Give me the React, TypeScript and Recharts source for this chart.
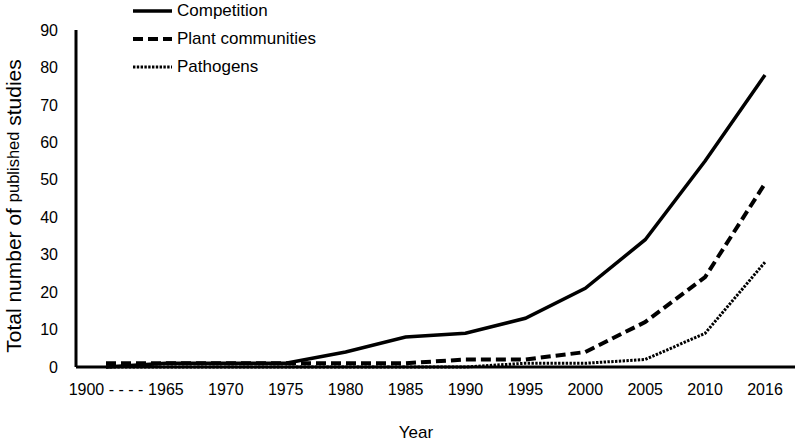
import React from 'react';
import { LineChart, Line, XAxis, YAxis } from 'recharts';

const years = ['1900 - - - -', '1965', '1970', '1975', '1980', '1985', '1990', '1995', '2000', '2005', '2010', '2016'];
const competition = [0, 1, 1, 1, 4, 8, 9, 13, 21, 34, 55, 78];
const plantCommunities = [1, 1, 1, 1, 1, 1, 2, 2, 4, 12, 24, 49];
const pathogens = [0, 0, 0, 0, 0, 0, 0, 1, 1, 2, 9, 28];
const yTicks = [0, 10, 20, 30, 40, 50, 60, 70, 80, 90];

const data = years.map((year, i) => ({
  year,
  competition: competition[i],
  plant: plantCommunities[i],
  pathogens: pathogens[i],
}));

const FONT = 'Liberation Sans, Arial, sans-serif';

const legendItems = [
  { label: 'Competition', dash: undefined, width: 3.5 },
  { label: 'Plant communities', dash: '10 5', width: 4 },
  { label: 'Pathogens', dash: '2.4 1.4', width: 3 },
];

const LegendBox = () => (
  <div style={{ position: 'absolute', left: 132, top: -3, fontFamily: FONT, fontSize: 17, color: '#000' }}>
    {legendItems.map(item => (
      <div key={item.label} style={{ display: 'flex', alignItems: 'center', height: 28 }}>
        <svg width={42} height={10} style={{ marginRight: 3 }}>
          <line x1={1} y1={5} x2={40} y2={5} stroke="#000" strokeWidth={item.width} strokeDasharray={item.dash} />
        </svg>
        <span>{item.label}</span>
      </div>
    ))}
  </div>
);

const YLabel = () => {
  const cx = 13;
  const cy = 206;
  return (
    <text
      x={cx}
      y={cy}
      transform={`rotate(-90, ${cx}, ${cy})`}
      textAnchor="middle"
      dominantBaseline="central"
      fontFamily={FONT}
      fill="#000"
      fontSize={21}
    >
      <tspan>Total number of </tspan>
      <tspan fontSize={16.5}>published</tspan>
      <tspan> studies</tspan>
    </text>
  );
};

const XLabel = () => (
  <text x={416} y={438} textAnchor="middle" fontFamily={FONT} fontSize={17} fill="#000">
    Year
  </text>
);

export default function App() {
  return (
    <div style={{ position: 'relative', width: 800, height: 444 }}>
      <style>{`body{margin:0}`}</style>
      <LineChart width={800} height={444} data={data} margin={{ top: 30, right: 5, left: 0, bottom: 0 }}>
        <XAxis
          dataKey="year"
          interval={0}
          padding={{ left: 30, right: 30 }}
          tickLine={false}
          tickSize={8}
          tickMargin={9}
          height={77}
          axisLine={{ stroke: '#000', strokeWidth: 3 }}
          tick={{ fill: '#000', fontSize: 16, fontFamily: FONT }}
          label={<XLabel />}
        />
        <YAxis
          width={76}
          domain={[0, 90]}
          ticks={yTicks}
          interval={0}
          tickLine={false}
          tickSize={8}
          tickMargin={10}
          axisLine={{ stroke: '#000', strokeWidth: 3 }}
          tick={{ fill: '#000', fontSize: 16, fontFamily: FONT }}
          label={<YLabel />}
        />
        <Line dataKey="competition" stroke="#000" strokeWidth={3.5} dot={false} isAnimationActive={false} />
        <Line dataKey="plant" stroke="#000" strokeWidth={4} strokeDasharray="10 5" dot={false} isAnimationActive={false} />
        <Line dataKey="pathogens" stroke="#000" strokeWidth={3} strokeDasharray="2.4 1.4" dot={false} isAnimationActive={false} />
      </LineChart>
      <LegendBox />
    </div>
  );
}
